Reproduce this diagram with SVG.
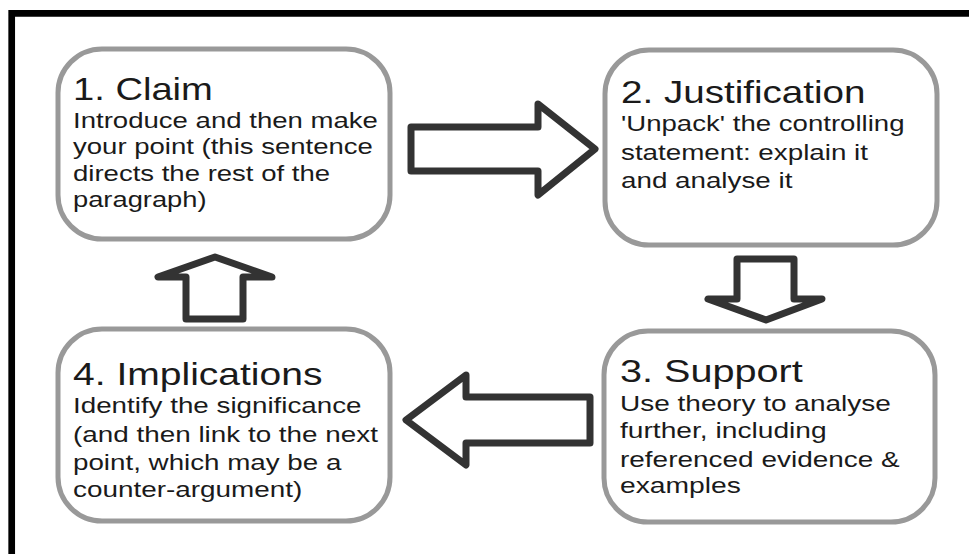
<svg xmlns="http://www.w3.org/2000/svg" width="969" height="554" viewBox="0 0 969 554">
<style>
.node{fill:#fff;stroke:#999;stroke-width:5}
.arrow{fill:#fff;stroke:#333;stroke-width:7;stroke-linejoin:round}
.t{font-family:"Liberation Sans",Arial,sans-serif;font-size:31px;fill:#1a1a1a}
.b{font-family:"Liberation Sans",Arial,sans-serif;font-size:22px;fill:#1a1a1a}
</style>
<rect width="969" height="554" fill="#fff"/>
<path d="M11.7,554 V13.3 H969" fill="none" stroke="#000" stroke-width="6.7"/>
<g id="node1">
<rect class="node" x="58" y="49" width="332" height="190" rx="44"/>
<g transform="translate(73,0) scale(1.26,1)">
<text class="t" x="0" y="100" textLength="111" lengthAdjust="spacingAndGlyphs">1. Claim</text>
<text class="b" x="0" y="128" textLength="242" lengthAdjust="spacingAndGlyphs">Introduce and then make</text>
<text class="b" x="0" y="154" textLength="238" lengthAdjust="spacingAndGlyphs">your point (this sentence</text>
<text class="b" x="0" y="181" textLength="204" lengthAdjust="spacingAndGlyphs">directs the rest of the</text>
<text class="b" x="0" y="207" textLength="106" lengthAdjust="spacingAndGlyphs">paragraph)</text>
</g>
</g>
<g id="node2">
<rect class="node" x="605" y="50" width="332" height="195" rx="44"/>
<g transform="translate(621,0) scale(1.26,1)">
<text class="t" x="0" y="103" textLength="194" lengthAdjust="spacingAndGlyphs">2. Justification</text>
<text class="b" x="0" y="131" textLength="225" lengthAdjust="spacingAndGlyphs">'Unpack' the controlling</text>
<text class="b" x="0" y="160" textLength="196" lengthAdjust="spacingAndGlyphs">statement: explain it</text>
<text class="b" x="0" y="188" textLength="136" lengthAdjust="spacingAndGlyphs">and analyse it</text>
</g>
</g>
<g id="node3">
<rect class="node" x="604" y="331" width="331" height="191" rx="44"/>
<g transform="translate(620,0) scale(1.26,1)">
<text class="t" x="0" y="382" textLength="145" lengthAdjust="spacingAndGlyphs">3. Support</text>
<text class="b" x="0" y="411" textLength="215" lengthAdjust="spacingAndGlyphs">Use theory to analyse</text>
<text class="b" x="0" y="438" textLength="164" lengthAdjust="spacingAndGlyphs">further, including</text>
<text class="b" x="0" y="467" textLength="222" lengthAdjust="spacingAndGlyphs">referenced evidence &amp;</text>
<text class="b" x="0" y="493" textLength="96" lengthAdjust="spacingAndGlyphs">examples</text>
</g>
</g>
<g id="node4">
<rect class="node" x="58" y="329" width="332" height="192" rx="44"/>
<g transform="translate(73,0) scale(1.26,1)">
<text class="t" x="0" y="385" textLength="198" lengthAdjust="spacingAndGlyphs">4. Implications</text>
<text class="b" x="0" y="413" textLength="229" lengthAdjust="spacingAndGlyphs">Identify the significance</text>
<text class="b" x="0" y="442" textLength="242" lengthAdjust="spacingAndGlyphs">(and then link to the next</text>
<text class="b" x="0" y="470" textLength="213" lengthAdjust="spacingAndGlyphs">point, which may be a</text>
<text class="b" x="0" y="497" textLength="182" lengthAdjust="spacingAndGlyphs">counter-argument)</text>
</g>
</g>
<g id="connectors">
<polygon class="arrow" points="411,127 538,127 538,104 595,149 538,195 538,171 411,171"/>
<polygon class="arrow" points="737,259 794,259 794,299 822,299 766,320 708,299 737,299"/>
<polygon class="arrow" points="590,397 466,397 466,375 406,420 466,465 466,443 590,443"/>
<polygon class="arrow" points="186,319 243,319 243,277 272,277 215,257 158,277 186,277"/>
</g>
</svg>
